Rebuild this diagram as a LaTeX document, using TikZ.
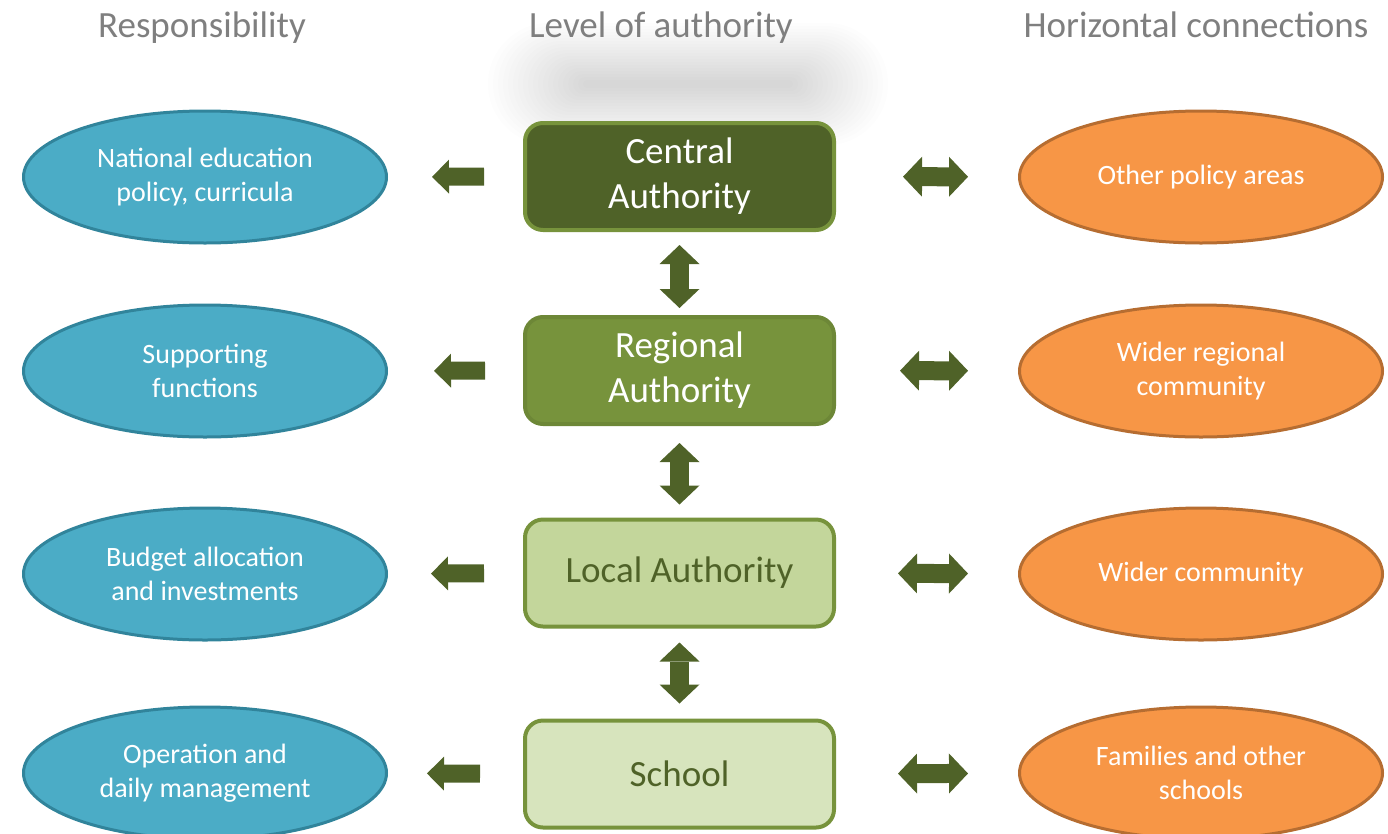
\documentclass[tikz,border=0pt]{standalone}
\usepackage{fontspec}
\setmainfont{Carlito}
\usetikzlibrary{arrows.meta,shapes.geometric}
\definecolor{olivedark}{HTML}{4F6228}
\definecolor{olivemid}{HTML}{77933C}
\definecolor{olivelight}{HTML}{C3D69B}
\definecolor{olivepale}{HTML}{D7E4BD}
\definecolor{tealfill}{HTML}{4BACC6}
\definecolor{tealdark}{HTML}{31849B}
\definecolor{orangefill}{HTML}{F79646}
\definecolor{orangedark}{HTML}{B66D31}
\definecolor{titlegray}{HTML}{7F7F7F}
\begin{document}
\begin{tikzpicture}[x=1pt, y=-1pt, line join=round,
	title/.style={anchor=base, text=titlegray, font=\fontsize{37}{45}\selectfont},
	level/.style={rectangle, rounded corners=18pt, draw=olivemid, line width=4pt, minimum width=309pt, minimum height=107pt, align=center, font=\fontsize{37}{45}\selectfont},
	resp/.style={ellipse, draw=tealdark, fill=tealfill, line width=3pt, minimum width=363pt, minimum height=132pt, inner sep=0pt, text=white, align=center, font=\fontsize{28}{34}\selectfont},
	link/.style={resp, draw=orangedark, fill=orangefill},
	toresp/.style={draw=olivedark, line width=18pt, -{Triangle[width=34pt,length=17pt,line width=0pt]}},
	twoway/.style={draw=olivedark, line width=19pt, {Triangle[width=40pt,length=19pt,line width=0pt]}-{Triangle[width=40pt,length=19pt,line width=0pt]}}]
	\useasboundingbox (0,0) rectangle (1388,833);
	\def\xl{205} \def\xm{679.5} \def\xr{1201}
	% soft shadow behind the top box
	\foreach \k in {0,...,19}{
		\pgfmathsetmacro\w{105+5*\k} \pgfmathsetmacro\h{4+3*\k}
		\fill[black, opacity=0.0095, rounded corners=\h pt] (688-\w,84-\h) rectangle (688+\w,84+\h);
	}
	\node[title] (tresp) at (202,37) {Responsibility};
	\node[title] (tlevel) at (661,37) {Level of authority};
	\node[title] (tconn) at (1196,37) {Horizontal connections};
	% levels
	\node[level, fill=olivedark, text=white] (central) at (\xm,176.5) {Central\\Authority};
	\node[level, fill=olivemid, draw=olivemid!92!black, text=white] (regional) at (\xm,370.5) {Regional\\Authority};
	\node[level, fill=olivelight, text=olivedark] (local) at (\xm,573) {Local Authority};
	\node[level, fill=olivepale, text=olivedark] (school) at (\xm,774) {School};
	% responsibilities
	\node[resp] (national) at (\xl,177) {National education\\policy, curricula};
	\node[resp] (support) at (\xl,371) {Supporting\\functions};
	\node[resp] (budget) at (\xl,574) {Budget allocation\\and investments};
	\node[resp] (operation) at (\xl,773) {Operation and\\daily management};
	% horizontal connections
	\node[link] (policy) at (\xr,177) {Other policy areas};
	\node[link] (regcomm) at (\xr,371) {Wider regional\\community};
	\node[link] (community) at (\xr,574) {Wider community};
	\node[link] (families) at (\xr,773) {Families and other\\schools};
	\draw[toresp, shorten <=39pt, shorten >=44pt] (central) -- (national);
	\draw[toresp, shorten <=38pt, shorten >=46pt] (regional) -- (support);
	\draw[toresp, shorten <=39pt, shorten >=43pt] (local) -- (budget);
	\draw[toresp, shorten <=43pt, shorten >=39pt] (school) -- (operation);
	\draw[twoway, shorten <=67pt, shorten >=50pt] (central) -- (policy);
	\draw[twoway, shorten <=64pt, shorten >=50pt] (regional) -- (regcomm);
	\draw[twoway, shorten <=62pt, shorten >=50pt] (local) -- (community);
	\draw[twoway, shorten <=62pt, shorten >=50pt] (school) -- (families);
	\draw[twoway, shorten <=13pt, shorten >=7pt] (central) -- (regional);
	\draw[twoway, shorten <=17pt, shorten >=13pt] (regional) -- (local);
	\draw[twoway, shorten <=14pt, shorten >=15pt] (local) -- (school);
\end{tikzpicture}
\end{document}
